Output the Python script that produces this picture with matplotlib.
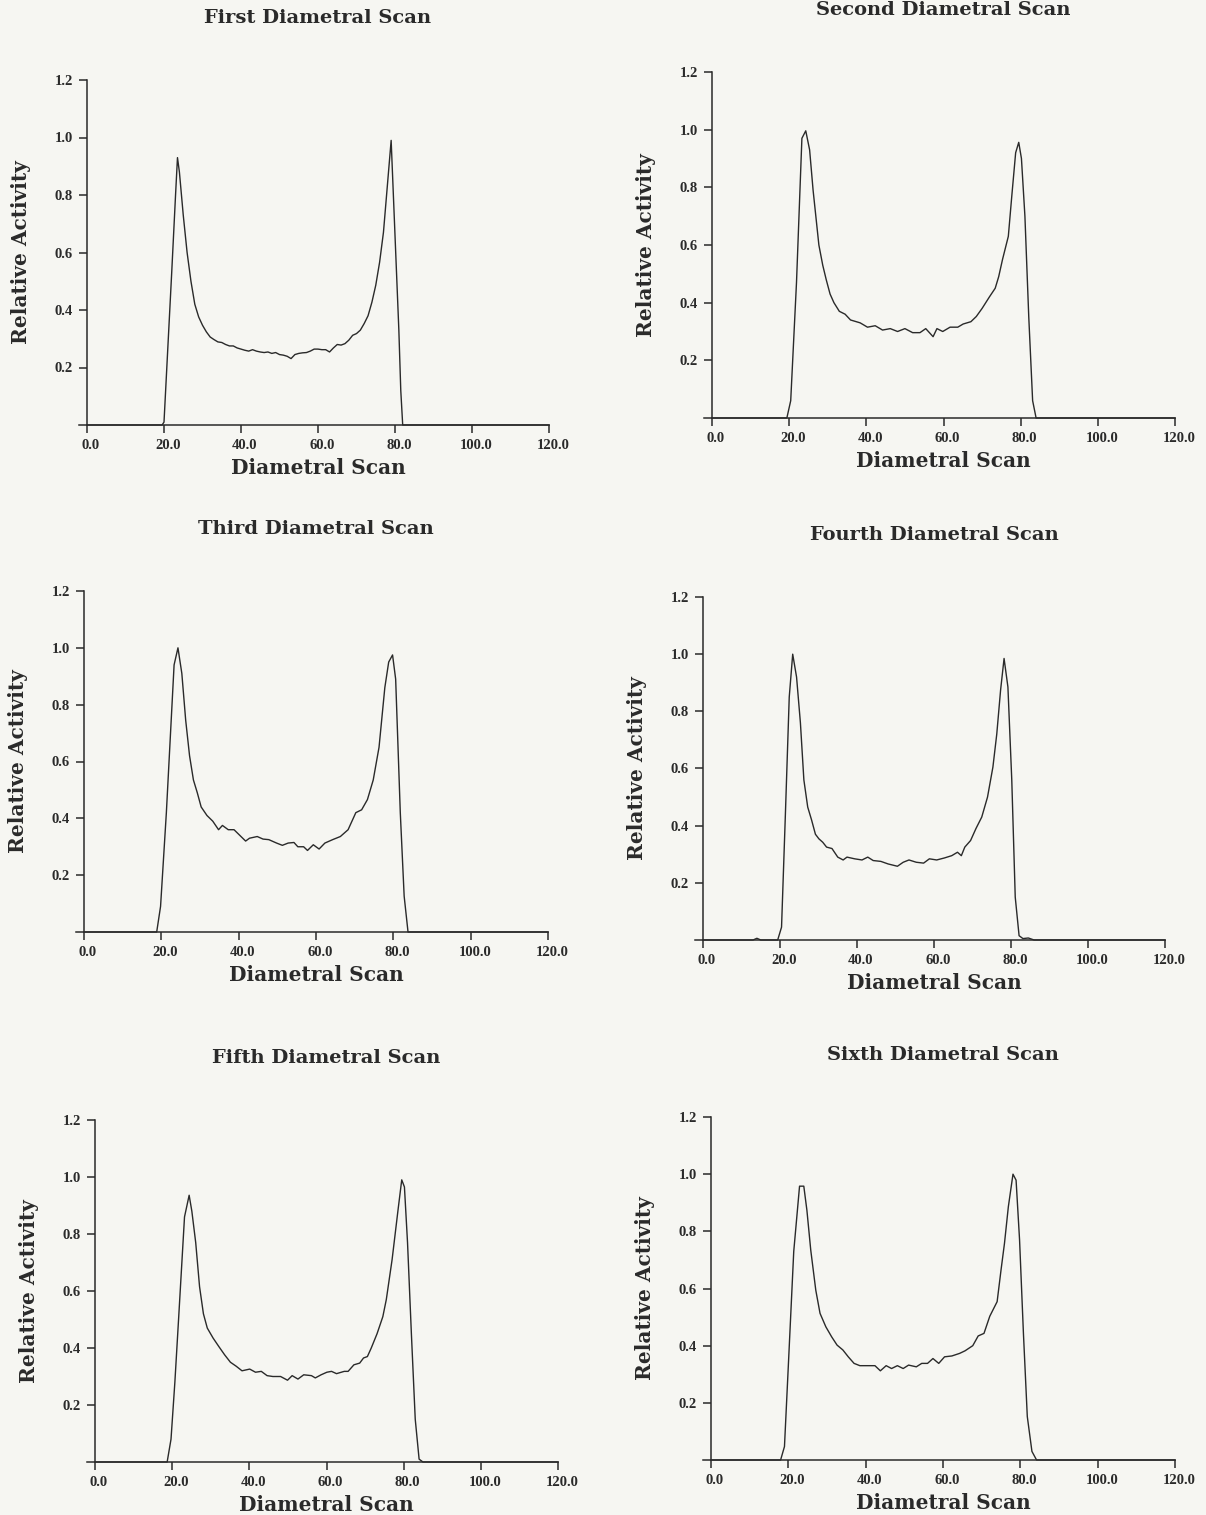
import matplotlib
matplotlib.use("Agg")
import matplotlib.pyplot as plt
from matplotlib.transforms import offset_copy, ScaledTranslation

titles = ["First Diametral Scan", "Second Diametral Scan", "Third Diametral Scan",
          "Fourth Diametral Scan", "Fifth Diametral Scan", "Sixth Diametral Scan"]

# first scan
x1 = [0, 19.5, 20, 21, 22, 23, 23.5, 24, 25, 26, 27, 28, 29, 30, 31, 32, 33, 34, 35, 36,
      37, 38, 39, 40, 41, 42, 43, 44, 45, 46, 47, 48, 49, 50, 51, 52, 53, 54, 55, 56, 57,
      58, 59, 60, 61, 62, 63, 64, 65, 66, 67, 68, 69, 70, 71, 72, 73, 74, 75, 76, 77, 78,
      79, 80, 81, 81.5, 82, 120]
y1 = [0, 0, 0.01, 0.27, 0.53, 0.80, 0.93, 0.88, 0.73, 0.60, 0.50, 0.42, 0.376, 0.347,
      0.324, 0.306, 0.297, 0.289, 0.287, 0.28, 0.275, 0.275, 0.268, 0.264, 0.26, 0.257,
      0.262, 0.257, 0.254, 0.252, 0.254, 0.249, 0.252, 0.245, 0.243, 0.239, 0.231, 0.245,
      0.249, 0.251, 0.252, 0.257, 0.264, 0.264, 0.262, 0.262, 0.254, 0.268, 0.28, 0.278,
      0.283, 0.295, 0.312, 0.318, 0.33, 0.353, 0.38, 0.427, 0.486, 0.566, 0.67, 0.83, 0.99,
      0.66, 0.33, 0.12, 0.0, 0]

# second scan
x2 = [0, 19.4, 20.4, 21.9, 23.3, 24.3, 25.3, 26.2, 27.7, 28.7, 29.6, 30.6, 31.6, 33.0,
      34.5, 35.9, 38.4, 40.3, 42.3, 44.2, 46.2, 48.1, 50.0, 52.0, 53.9, 55.4, 57.3, 58.3,
      59.8, 61.7, 63.7, 65.1, 67.1, 68.5, 70.0, 71.9, 73.4, 74.3, 75.3, 76.8, 77.7, 78.7,
      79.5, 80.2, 81.1, 82.1, 83.1, 84.0, 120]
y2 = [0, 0, 0.06, 0.47, 0.97, 0.996, 0.93, 0.79, 0.60, 0.53, 0.48, 0.43, 0.40, 0.37, 0.36,
      0.34, 0.33, 0.315, 0.32, 0.305, 0.31, 0.30, 0.31, 0.296, 0.296, 0.31, 0.282, 0.31,
      0.30, 0.315, 0.315, 0.326, 0.334, 0.352, 0.38, 0.42, 0.45, 0.49, 0.55, 0.63, 0.77,
      0.92, 0.956, 0.90, 0.70, 0.35, 0.06, 0, 0]

# third scan
x3 = [0, 18.8, 19.8, 21.3, 23.3, 24.3, 25.3, 26.3, 27.3, 28.3, 29.3, 30.3, 31.8, 33.3,
      34.8, 35.8, 37.3, 38.8, 40.3, 41.8, 42.8, 44.8, 46.3, 47.8, 49.8, 51.3, 52.8, 54.3,
      55.3, 56.8, 57.8, 59.3, 60.8, 62.3, 64.3, 66.3, 68.3, 70.3, 71.8, 73.3, 74.8, 76.3,
      77.8, 78.8, 79.8, 80.6, 81.8, 82.8, 83.8, 120]
y3 = [0, 0, 0.09, 0.42, 0.94, 1.0, 0.91, 0.745, 0.62, 0.535, 0.49, 0.44, 0.41, 0.39, 0.36,
      0.375, 0.36, 0.36, 0.34, 0.32, 0.33, 0.336, 0.327, 0.325, 0.313, 0.305, 0.313, 0.315,
      0.30, 0.30, 0.287, 0.307, 0.292, 0.313, 0.325, 0.336, 0.36, 0.42, 0.43, 0.466, 0.535,
      0.65, 0.86, 0.95, 0.975, 0.89, 0.42, 0.126, 0, 0]

# fourth scan
x4 = [0, 13, 14, 15, 19.4, 20.4, 21.4, 22.4, 23.3, 24.3, 25.3, 26.2, 27.2, 28.2, 29.2, 30.1,
      31.1, 32.1, 33.5, 35.0, 36.4, 37.4, 39.4, 41.3, 42.8, 44.2, 46.2, 48.1, 50.5, 52.0,
      53.5, 55.4, 57.3, 58.8, 60.7, 62.7, 64.6, 66.1, 67.1, 68.0, 69.5, 70.9, 72.4, 73.9,
      75.3, 76.3, 77.3, 78.2, 79.2, 80.2, 81.1, 82.1, 83.1, 84.5, 86, 120]
y4 = [0, 0, 0.006, 0, 0, 0.045, 0.44, 0.85, 1.0, 0.92, 0.76, 0.56, 0.465, 0.42, 0.37, 0.354,
      0.342, 0.325, 0.32, 0.29, 0.28, 0.29, 0.284, 0.28, 0.29, 0.278, 0.275, 0.266, 0.258,
      0.272, 0.28, 0.272, 0.269, 0.284, 0.28, 0.287, 0.295, 0.307, 0.295, 0.325, 0.348,
      0.39, 0.43, 0.5, 0.605, 0.72, 0.875, 0.985, 0.885, 0.56, 0.15, 0.015, 0.005, 0.007,
      0, 0]

# fifth scan
x5 = [0, 18.7, 19.7, 20.7, 21.7, 23.2, 24.4, 25.1, 26.1, 27.1, 28.1, 29.1, 30.6, 32.1,
      33.6, 35.1, 36.6, 38.1, 40.1, 41.6, 43.1, 44.6, 46.1, 48.1, 49.9, 51.1, 52.6, 54.1,
      56.1, 57.1, 58.6, 60.1, 61.3, 62.6, 64.6, 65.6, 67.1, 68.6, 69.6, 70.6, 71.6, 73.1,
      74.6, 75.5, 77.0, 78.5, 79.5, 80.2, 81.0, 82.0, 83.0, 84.0, 85.0, 120]
y5 = [0, 0, 0.08, 0.28, 0.51, 0.86, 0.936, 0.88, 0.77, 0.615, 0.52, 0.47, 0.435, 0.405,
      0.376, 0.35, 0.336, 0.32, 0.326, 0.315, 0.318, 0.303, 0.30, 0.30, 0.287, 0.303,
      0.291, 0.306, 0.303, 0.295, 0.306, 0.315, 0.318, 0.31, 0.318, 0.318, 0.341, 0.347,
      0.365, 0.37, 0.40, 0.45, 0.51, 0.57, 0.71, 0.88, 0.99, 0.965, 0.77, 0.45, 0.15,
      0.01, 0, 0]

# sixth scan
x6 = [0, 18.0, 19.0, 20.0, 21.4, 22.9, 24.0, 24.8, 25.8, 27.1, 28.2, 29.7, 31.2, 32.6,
      34.1, 35.5, 37.0, 38.5, 40.4, 42.4, 43.8, 45.3, 46.7, 48.2, 49.7, 51.1, 53.1, 54.5,
      56.0, 57.4, 58.9, 60.4, 62.3, 64.3, 65.7, 67.7, 69.1, 70.6, 72.1, 74.0, 75.0, 75.9,
      76.9, 78.1, 78.9, 79.8, 80.8, 81.8, 83.0, 84.2, 120]
y6 = [0, 0, 0.047, 0.33, 0.73, 0.958, 0.958, 0.874, 0.734, 0.594, 0.513, 0.466, 0.431,
      0.402, 0.385, 0.361, 0.338, 0.33, 0.33, 0.33, 0.312, 0.33, 0.32, 0.33, 0.32, 0.332,
      0.326, 0.338, 0.338, 0.355, 0.338, 0.361, 0.364, 0.373, 0.382, 0.40, 0.434, 0.443,
      0.503, 0.554, 0.664, 0.758, 0.886, 1.0, 0.979, 0.77, 0.443, 0.152, 0.03, 0, 0]

xs = [x1, x2, x3, x4, x5, x6]
ys = [y1, y2, y3, y4, y5, y6]

x_ticks = [0, 20, 40, 60, 80, 100, 120]
x_labels = ["0.0", "20.0", "40.0", "60.0", "80.0", "100.0", "120.0"]
y_ticks = [0.2, 0.4, 0.6, 0.8, 1.0, 1.2]
y_labels = ["0.2", "0.4", "0.6", "0.8", "1.0", "1.2"]

# pixel spots of each panel: x of 0, x of 120, y of 0, y of 1.2
W, H = 1206, 1515
boxes = [(87, 549, 425, 80), (712, 1175, 418, 72),
         (84, 548, 932, 591), (703, 1165, 940, 597),
         (95, 558, 1462, 1120), (711, 1175, 1460, 1117)]

ink = "#2a2a2a"
paper = "#f6f6f2"
tick_font = {"family": "Liberation Serif", "weight": "bold", "size": 10.5}
lab_font = {"family": "DejaVu Serif", "weight": "bold", "size": 14}

fig = plt.figure(figsize=(W / 100, H / 100), dpi=100, facecolor=paper)

for i in range(6):
    x0, x120, yb, yt = boxes[i]
    ppu = (x120 - x0) / 120.0
    left = (x0 - 2 * ppu) / W
    ax = fig.add_axes([left, 1 - yb / H, 122 * ppu / W, (yb - yt) / H])
    ax.set_facecolor("none")
    ax.plot(xs[i], ys[i], color=ink, lw=1.0, clip_on=False)
    ax.set_xlim(-2, 120)
    ax.set_ylim(0, 1.2)

    ax.spines["top"].set_visible(False)
    ax.spines["right"].set_visible(False)
    ax.spines["left"].set_position(("data", 0))
    for s in ["left", "bottom"]:
        ax.spines[s].set_color(ink)
        ax.spines[s].set_linewidth(1.1)

    ax.set_xticks(x_ticks)
    ax.set_xticklabels(x_labels, fontdict=tick_font, color=ink)
    ax.set_yticks(y_ticks)
    ax.set_yticklabels(y_labels, fontdict=tick_font, color=ink)
    ax.tick_params(length=6, width=1.1, color=ink, pad=4)
    # tick numbers sit a little right of their ticks in the original
    for lab in ax.get_xticklabels():
        lab.set_transform(lab.get_transform() + ScaledTranslation(4 / 100, 0, fig.dpi_scale_trans))

    ax.text(60, 1.2, titles[i], ha="center", va="center", color=ink, fontdict=lab_font,
            transform=offset_copy(ax.transData, fig=fig, y=62, units="dots"))
    ax.text(60, 0, "Diametral Scan", ha="center", va="center", color=ink,
            fontdict=dict(lab_font, size=14.5),
            transform=offset_copy(ax.transData, fig=fig, y=-43, units="dots"))
    ax.text(0, 0.6, "Relative Activity", ha="center", va="center", rotation=90, color=ink,
            fontdict=dict(lab_font, size=14.5),
            transform=offset_copy(ax.transData, fig=fig, x=-66, units="dots"))

fig.savefig("out.png", dpi=100, facecolor=paper)
